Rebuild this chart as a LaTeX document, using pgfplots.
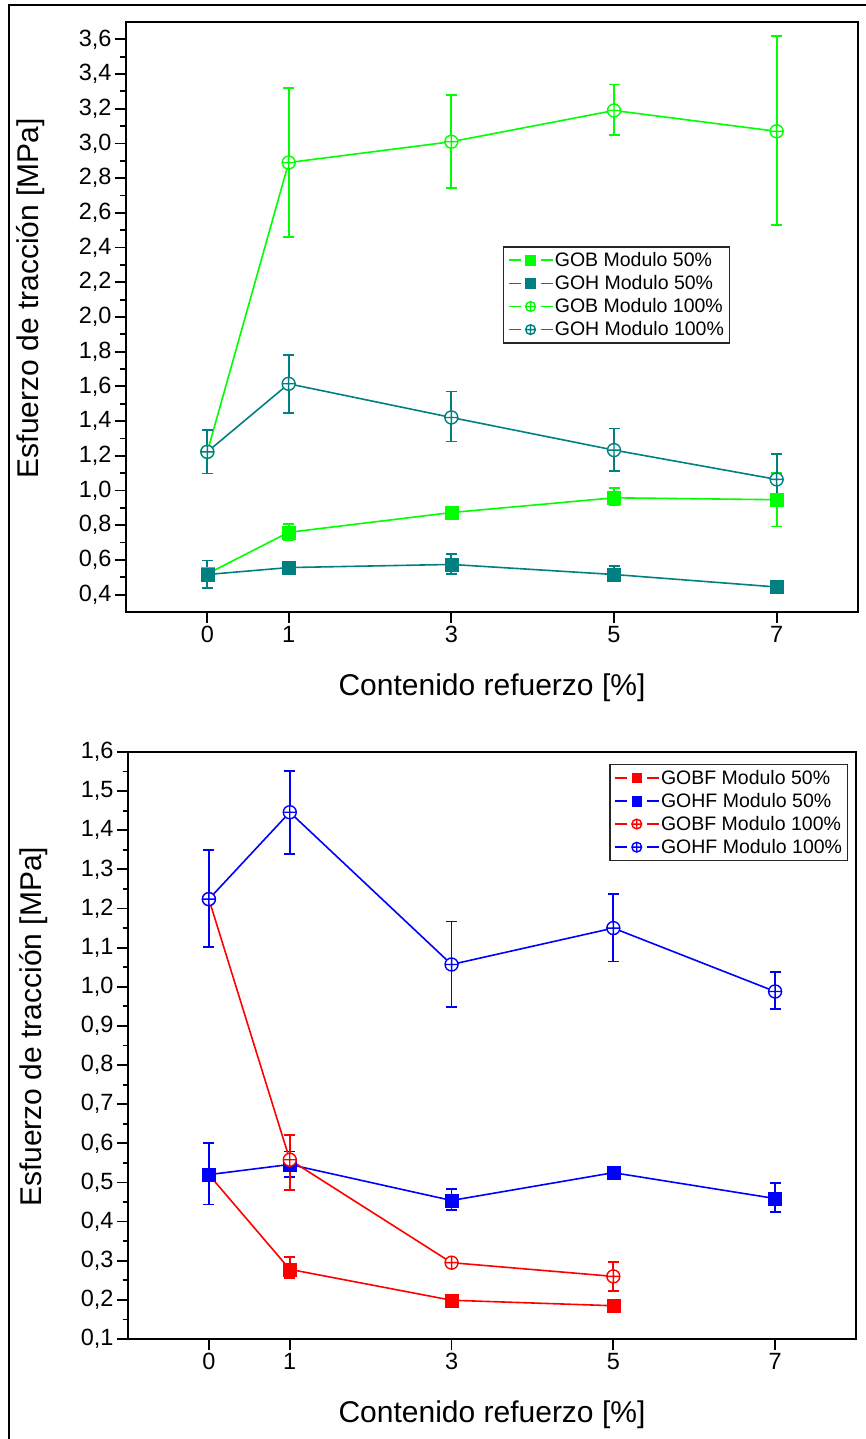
\documentclass[border=0pt]{standalone}
\usepackage{fontspec}
\setmainfont{Liberation Sans}
\usepackage{pgfplots}
\usepackage{pgfplotstable}
\pgfplotsset{compat=1.18}

\definecolor{cgreen}{HTML}{00FF00}
\definecolor{cteal}{HTML}{008080}
\definecolor{cred}{HTML}{FF0000}
\definecolor{cblue}{HTML}{0000FF}

% top panel
\pgfplotstableread{
x y ep em
0 0.520 0 0
1 0.759 0.050 0.045
3 0.873 0.015 0.015
5 0.958 0.055 0.045
7 0.947 0.155 0.155
}\gobfifty
\pgfplotstableread{
x y ep em
0 0.516 0.080 0.076
1 0.556 0.020 0.020
3 0.574 0.060 0.055
5 0.516 0.050 0.040
7 0.444 0.010 0.010
}\gohfifty
\pgfplotstableread{
x y ep em
0 1.223 0 0
1 2.890 0.430 0.430
3 3.010 0.270 0.265
5 3.190 0.150 0.140
7 3.070 0.550 0.540
}\gobcien
\pgfplotstableread{
x y ep em
0 1.223 0.127 0.125
1 1.615 0.165 0.167
3 1.421 0.149 0.138
5 1.233 0.125 0.121
7 1.064 0.146 0.146
}\gohcien
% bottom panel
\pgfplotstableread{
x y ep em
0 0.520 0 0
1 0.278 0.031 0.022
3 0.199 0.008 0.008
5 0.185 0.008 0.008
}\gobffifty
\pgfplotstableread{
x y ep em
0 0.520 0.080 0.076
1 0.546 0.033 0.032
3 0.454 0.030 0.025
5 0.525 0.015 0.015
7 0.459 0.039 0.034
}\gohffifty
\pgfplotstableread{
x y ep em
0 1.224 0 0
1 0.558 0.064 0.078
3 0.295 0.010 0.010
5 0.260 0.036 0.037
}\gobfcien
\pgfplotstableread{
x y ep em
0 1.224 0.125 0.123
1 1.446 0.106 0.107
3 1.057 0.110 0.108
5 1.150 0.088 0.085
7 0.988 0.049 0.045
}\gohfcien

\pgfplotsset{
  mystyle/.style={
    scale only axis,
    xmin=-1, xmax=8,
    xtick={0,1,3,5,7},
    tick align=outside,
    xtick pos=lower, ytick pos=left,
    minor y tick num=1,
    major tick length=11pt, minor tick length=5.5pt,
    tick style={black, line width=1.8pt},
    axis line style={line width=1.8pt},
    tick label style={font=\fontsize{23.5pt}{27pt}\selectfont},
    /pgf/number format/assume math mode=true,
    yticklabel style={/pgf/number format/fixed, /pgf/number format/fixed zerofill,
      /pgf/number format/precision=1, /pgf/number format/use comma},
    label style={font=\fontsize{30pt}{36pt}\selectfont},
    xlabel style={at={(axis description cs:0.5,-0.129)}, anchor=center},
    ylabel style={at={(axis description cs:-0.13,0.532)}, anchor=center},
    xlabel={Contenido refuerzo [\%]},
    ylabel={Esfuerzo de tracción [MPa]},
    legend cell align=left,
    legend style={draw=black!85, line width=1.5pt,
      font=\fontsize{19.5pt}{22pt}\selectfont,
      inner xsep=4pt, inner ysep=4pt, row sep=4.5pt,
      nodes={inner sep=1.5pt}},
    legend image code/.code={
      \draw[#1, line width=1.6pt] (0pt,0pt) -- (12pt,0pt);
      \draw[#1, line width=1.6pt] (32pt,0pt) -- (44pt,0pt);
      \draw[#1, line width=1.3pt, every mark/.append style={scale=0.75}]
        plot coordinates {(22pt,0pt)};},
  },
  s50/.style={mark=square*, mark size=6.5pt, line width=1.6pt,
    mark options={solid, line width=0.4pt}},
  s100/.style={mark=oplus*, mark size=6.5pt, line width=1.6pt,
    mark options={solid, fill=white, line width=1.4pt}},
  eb/.style={error bars/.cd, y dir=both, y explicit,
    error bar style={line width=1.7pt},
    error mark options={rotate=90, mark size=5.5pt, line width=1.7pt}},
}

\begin{document}
\begin{tikzpicture}
\path[use as bounding box] (0pt,0pt) rectangle (866pt,1439pt);
\draw[line width=2pt] (9pt,0pt) -- (9pt,1434pt) -- (866pt,1434pt);

\begin{axis}[mystyle,
  at={(126pt,827pt)}, anchor=south west,
  width=732pt, height=590pt,
  ymin=0.3, ymax=3.7,
  ytick={0.4,0.6,...,3.61},
  legend style={at={(0.515,0.620)}, anchor=north west},
]
\addplot[color=cgreen, s50, eb] table[x=x, y=y, y error plus=ep, y error minus=em] {\gobfifty};
\addlegendentry{GOB Modulo 50\%}
\addplot[color=cteal, s50, eb] table[x=x, y=y, y error plus=ep, y error minus=em] {\gohfifty};
\addlegendentry{GOH Modulo 50\%}
\addplot[color=cgreen, s100, eb] table[x=x, y=y, y error plus=ep, y error minus=em] {\gobcien};
\addlegendentry{GOB Modulo 100\%}
\addplot[color=cteal, s100, eb] table[x=x, y=y, y error plus=ep, y error minus=em] {\gohcien};
\addlegendentry{GOH Modulo 100\%}
\end{axis}

\begin{axis}[mystyle,
  at={(128pt,100pt)}, anchor=south west,
  width=728pt, height=587pt,
  ymin=0.1, ymax=1.6,
  ytick={0.1,0.2,...,1.61},
  legend style={at={(0.661,0.980)}, anchor=north west},
]
\addplot[color=cred, s50, eb] table[x=x, y=y, y error plus=ep, y error minus=em] {\gobffifty};
\addlegendentry{GOBF Modulo 50\%}
\addplot[color=cblue, s50, eb] table[x=x, y=y, y error plus=ep, y error minus=em] {\gohffifty};
\addlegendentry{GOHF Modulo 50\%}
\addplot[color=cred, s100, eb] table[x=x, y=y, y error plus=ep, y error minus=em] {\gobfcien};
\addlegendentry{GOBF Modulo 100\%}
\addplot[color=cblue, s100, eb] table[x=x, y=y, y error plus=ep, y error minus=em] {\gohfcien};
\addlegendentry{GOHF Modulo 100\%}
\end{axis}
\end{tikzpicture}
\end{document}
